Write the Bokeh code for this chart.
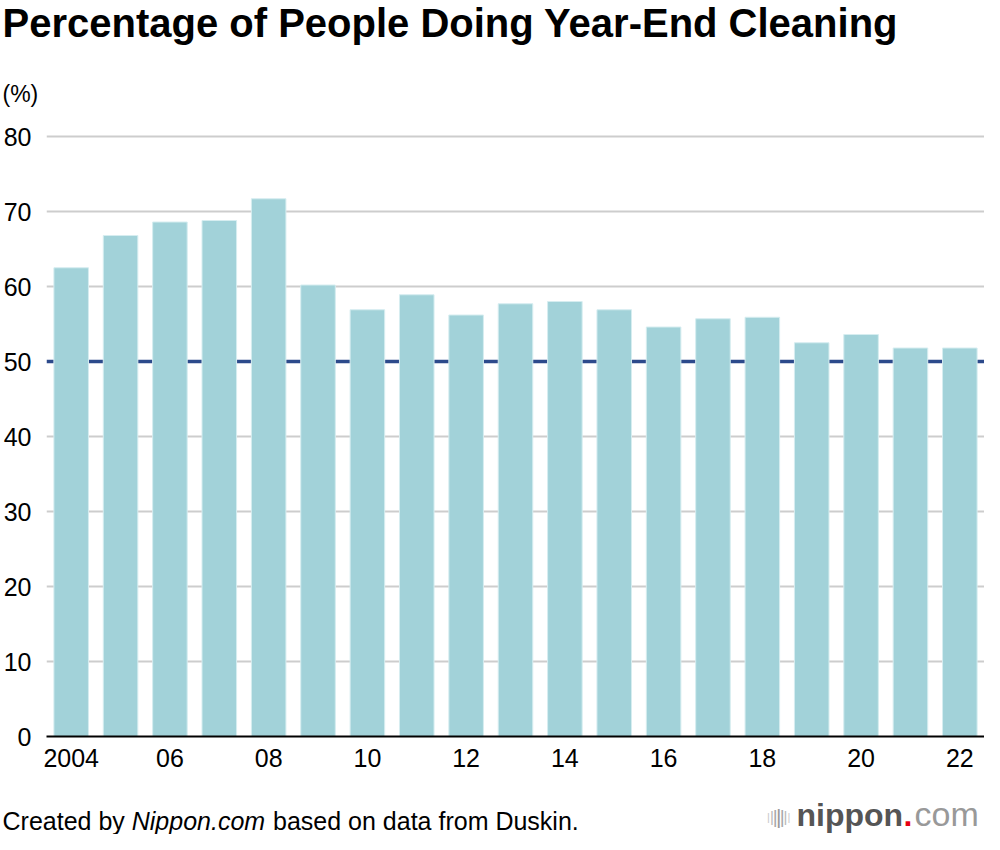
from bokeh.plotting import figure
from bokeh.layouts import column
from bokeh.models import Range1d, FixedTicker, Span, Label, ColumnDataSource
from bokeh.embed import file_html
from bokeh.resources import INLINE

# ---- data ----
years = list(range(2004, 2023))
percent = [62.5, 66.8, 68.6, 68.8, 71.7, 60.2, 56.9, 58.9, 56.2, 57.7,
           58.0, 56.9, 54.6, 55.7, 55.9, 52.5, 53.6, 51.8, 51.8]
tick_years = [2004, 2006, 2008, 2010, 2012, 2014, 2016, 2018, 2020, 2022]
tick_labels = ["2004", "06", "08", "10", "12", "14", "16", "18", "20", "22"]
y_ticks = [0, 10, 20, 30, 40, 50, 60, 70, 80]
reference_level = 50

title_text = "Percentage of People Doing Year-End Cleaning"
unit_text = "(%)"
source_parts = ["Created by", "Nippon.com", "based on data from Duskin."]

# ---- layout ----
W = 984
TOP_H = 120          # header strip
LEFT = 45
FRAME_TOP = 6
FRAME_H = 610
FRAME_BOTTOM = 49
MAIN_H = FRAME_TOP + FRAME_H + FRAME_BOTTOM
BOT_H = 834 - TOP_H - MAIN_H
PX_PER_Y = 7.5
Y_MAX = FRAME_H / PX_PER_Y
X0, X1 = 2003.5, 2022.5
FONT = "Liberation Sans"
MID = 0.33  # distance from alphabetic baseline to text middle, in em


def strip(height):
    f = figure(width=W, height=height, output_backend="svg", toolbar_location=None,
               x_range=Range1d(0, W), y_range=Range1d(height, 0),
               x_axis_type=None, y_axis_type=None,
               min_border=0, min_border_left=0, min_border_right=0,
               min_border_top=0, min_border_bottom=0)
    f.title = None
    f.frame_align = False
    f.outline_line_color = None
    f.grid.visible = False
    return f


def add_label(f, x, base, text, size, style="normal", color="black"):
    f.add_layout(Label(x=x, y=base - MID * size, text=text, text_font=FONT,
                       text_font_size=f"{size}px", text_font_style=style,
                       text_color=color, text_baseline="middle", text_align="left"))


# ---- header ----
top = strip(TOP_H)
add_label(top, 2, 36, title_text, 40, "bold")
add_label(top, 2, 101, unit_text, 23)

# ---- main chart ----
p = figure(width=W, height=MAIN_H, output_backend="svg", toolbar_location=None,
           x_range=Range1d(X0, X1), y_range=Range1d(0, Y_MAX),
           min_border_left=LEFT, min_border_right=0,
           min_border_top=FRAME_TOP, min_border_bottom=FRAME_BOTTOM)
p.title = None
p.frame_align = False
p.outline_line_color = None

p.xgrid.grid_line_color = None
p.ygrid.ticker = FixedTicker(ticks=[t for t in y_ticks if t != reference_level])
p.ygrid.grid_line_color = "#cdcdcd"
p.ygrid.grid_line_width = 2

span = Span(location=reference_level, dimension="width", line_color="#2c4a8b",
            line_width=3.5, level="underlay")
p.add_layout(span)

src = ColumnDataSource(dict(year=years, pct=percent))
p.vbar(x="year", top="pct", bottom=0, width=0.7, source=src,
       fill_color="#a2d2d9", line_color="#d6edf0", line_width=1)

p.yaxis.ticker = FixedTicker(ticks=y_ticks)
p.yaxis.axis_line_color = None
p.yaxis.major_tick_line_color = None
p.yaxis.minor_tick_line_color = None
p.yaxis.major_tick_out = 0
p.yaxis.major_tick_in = 0
p.yaxis.major_label_standoff = 15
p.yaxis.major_label_text_font = FONT
p.yaxis.major_label_text_font_size = "25px"
p.yaxis.major_label_text_color = "black"

p.xaxis.ticker = FixedTicker(ticks=tick_years)
p.xaxis.major_label_overrides = {y: l for y, l in zip(tick_years, tick_labels)}
p.xaxis.axis_line_color = "black"
p.xaxis.axis_line_width = 2
p.xaxis.major_tick_line_color = None
p.xaxis.minor_tick_line_color = None
p.xaxis.major_tick_out = 0
p.xaxis.major_tick_in = 0
p.xaxis.major_label_standoff = 12
p.xaxis.major_label_text_font = FONT
p.xaxis.major_label_text_font_size = "25px"
p.xaxis.major_label_text_color = "black"

# ---- footer ----
bot = strip(BOT_H)
fs = 25
base = BOT_H - 5
x_nippon = 2 + 5169 * fs / 1000
x_rest = x_nippon + (5335 + 278) * fs / 1000 + 1
add_label(bot, 2, base, source_parts[0], fs)
add_label(bot, x_nippon, base, source_parts[1], fs, "italic")
add_label(bot, x_rest, base, source_parts[2], fs)

logo_base = base - 4
icon_sizes = [11, 15, 19, 21, 19, 15, 11]
icon_colors = ["#c8c8c8", "#b8b8b8", "#a8a8a8", "#9a9a9a", "#a8a8a8", "#b8b8b8", "#c8c8c8"]
for i, (s, c) in enumerate(zip(icon_sizes, icon_colors)):
    bot.add_layout(Label(x=768 + i * 3.4, y=logo_base - 9, text="|", text_font=FONT,
                         text_font_size=f"{s}px", text_color=c,
                         text_baseline="middle", text_align="center"))
add_label(bot, 796, logo_base, "nippon", 32, "bold", "#555555")
add_label(bot, 903, logo_base, ".", 32, "bold", "#e60012")
add_label(bot, 914, logo_base, "com", 34, "normal", "#999999")

layout = column(top, p, bot, spacing=0)
open("out.html", "w").write(file_html(layout, INLINE))
